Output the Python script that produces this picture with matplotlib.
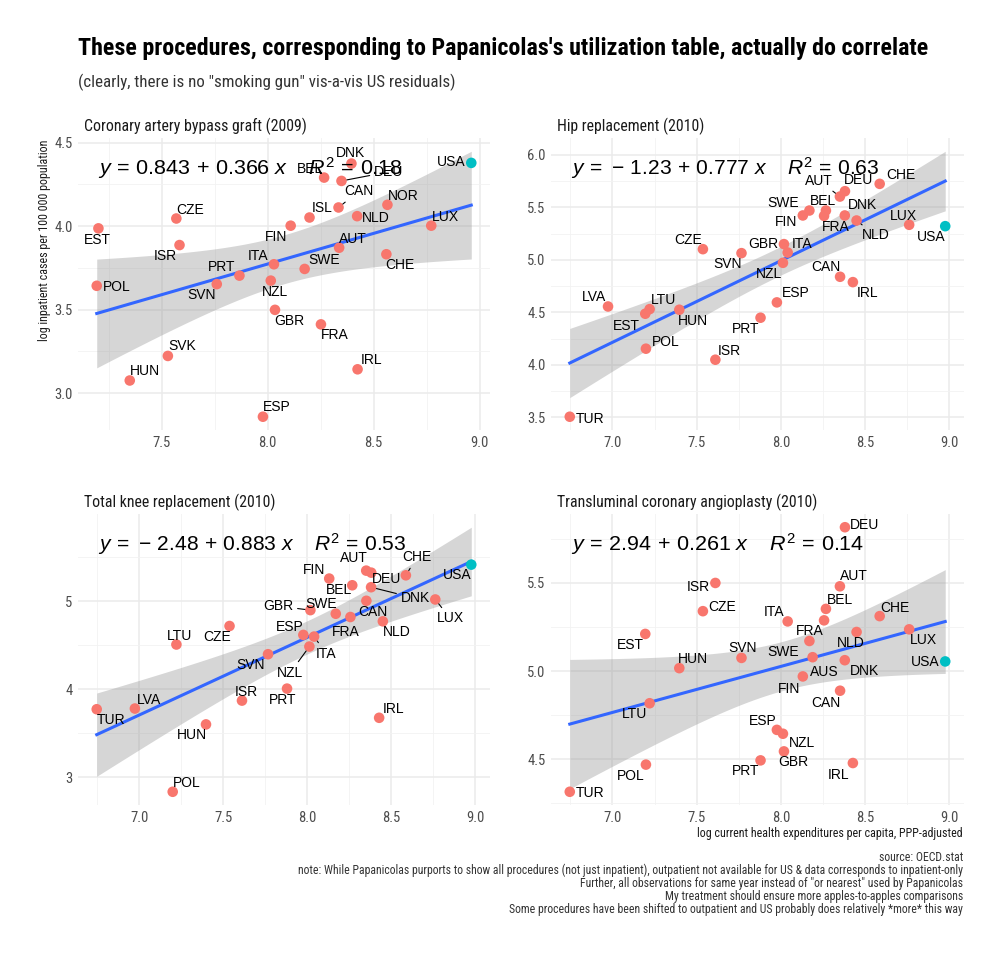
import numpy as np
import matplotlib
matplotlib.use("Agg")
import matplotlib.pyplot as plt
from matplotlib import font_manager
from matplotlib.ticker import MultipleLocator, FormatStrFormatter

# pick a condensed family if there is one, else plain Roboto
installed = {f.name for f in font_manager.fontManager.ttflist}
cond = next((n for n in ['Roboto Condensed', 'Liberation Sans Narrow',
                         'Open Sans Condensed', 'Roboto'] if n in installed), 'DejaVu Sans')

plt.rcParams['font.family'] = [cond, 'DejaVu Sans']
plt.rcParams['mathtext.fontset'] = 'custom'
plt.rcParams['mathtext.rm'] = 'Liberation Sans'
plt.rcParams['mathtext.it'] = 'Liberation Sans:italic'
plt.rcParams['mathtext.bf'] = 'Liberation Sans:bold'

# log health expenditure per capita (x) by country
spend_2009 = {'EST': 7.200, 'POL': 7.192, 'CZE': 7.568, 'ISR': 7.583, 'HUN': 7.348,
              'SVK': 7.528, 'SVN': 7.759, 'PRT': 7.866, 'ITA': 8.029, 'NZL': 8.014,
              'GBR': 8.034, 'ESP': 7.977, 'FIN': 8.108, 'ISL': 8.197, 'CAN': 8.334,
              'SWE': 8.174, 'AUT': 8.337, 'BEL': 8.266, 'DNK': 8.395, 'DEU': 8.348,
              'NLD': 8.422, 'NOR': 8.565, 'FRA': 8.251, 'IRL': 8.424, 'CHE': 8.560,
              'LUX': 8.772, 'USA': 8.961}
spend_2010 = {'TUR': 6.747, 'LVA': 6.974, 'EST': 7.195, 'LTU': 7.221, 'POL': 7.199,
              'HUN': 7.397, 'CZE': 7.537, 'ISR': 7.611, 'SVN': 7.766, 'PRT': 7.879,
              'ESP': 7.976, 'GBR': 8.018, 'ITA': 8.040, 'NZL': 8.012, 'CAN': 8.351,
              'IRL': 8.427, 'FIN': 8.130, 'SWE': 8.169, 'BEL': 8.267, 'FRA': 8.256,
              'AUT': 8.350, 'DEU': 8.380, 'DNK': 8.379, 'NLD': 8.449, 'CHE': 8.586,
              'LUX': 8.761, 'USA': 8.975, 'AUS': 8.188}

# log inpatient cases per 100 000 (y)
cabg_countries = ['EST', 'POL', 'CZE', 'ISR', 'HUN', 'SVK', 'SVN', 'PRT', 'ITA', 'NZL',
                  'GBR', 'ESP', 'FIN', 'ISL', 'CAN', 'SWE', 'AUT', 'BEL', 'DNK', 'DEU',
                  'NLD', 'NOR', 'FRA', 'IRL', 'CHE', 'LUX', 'USA']
cabg_values = [3.987, 3.643, 4.046, 3.887, 3.076, 3.223, 3.653, 3.704, 3.772, 3.674,
               3.499, 2.859, 4.003, 4.052, 4.112, 3.744, 3.871, 4.291, 4.375, 4.271,
               4.060, 4.128, 3.412, 3.143, 3.832, 4.003, 4.379]

hip_countries = ['TUR', 'LVA', 'EST', 'LTU', 'POL', 'HUN', 'CZE', 'ISR', 'SVN', 'PRT',
                 'ESP', 'GBR', 'ITA', 'NZL', 'CAN', 'IRL', 'FIN', 'SWE', 'BEL', 'FRA',
                 'AUT', 'DEU', 'DNK', 'NLD', 'CHE', 'LUX', 'USA']
hip_values = [3.506, 4.556, 4.487, 4.531, 4.154, 4.525, 5.102, 4.049, 5.064, 4.449,
              4.595, 5.150, 5.070, 4.972, 4.839, 4.788, 5.423, 5.470, 5.470, 5.419,
              5.603, 5.654, 5.423, 5.375, 5.724, 5.334, 5.321]

knee_countries = ['TUR', 'LVA', 'POL', 'LTU', 'HUN', 'CZE', 'ISR', 'SVN', 'PRT', 'ESP',
                  'ITA', 'NZL', 'GBR', 'SWE', 'FRA', 'CAN', 'FIN', 'BEL', 'AUT', 'DEU',
                  'DNK', 'CHE', 'NLD', 'IRL', 'LUX', 'USA']
knee_values = [3.774, 3.782, 2.838, 4.508, 3.602, 4.718, 3.872, 4.398, 4.008, 4.617,
               4.598, 4.485, 4.898, 4.857, 4.820, 5.004, 5.256, 5.180, 5.346, 5.323,
               5.158, 5.293, 4.771, 3.677, 5.019, 5.414]

ptca_countries = ['TUR', 'POL', 'EST', 'LTU', 'HUN', 'CZE', 'ISR', 'SVN', 'ESP', 'NZL',
                  'GBR', 'PRT', 'ITA', 'FRA', 'BEL', 'AUT', 'DEU', 'CHE', 'NLD', 'DNK',
                  'CAN', 'LUX', 'USA', 'IRL', 'SWE', 'FIN', 'AUS']
ptca_values = [4.316, 4.470, 5.211, 4.818, 5.017, 5.340, 5.500, 5.075, 4.667, 4.645,
               4.545, 4.494, 5.282, 5.288, 5.353, 5.481, 5.816, 5.312, 5.222, 5.062,
               4.889, 5.237, 5.055, 4.479, 5.171, 4.970, 5.079]

panel_titles = ['Coronary artery bypass graft (2009)', 'Hip replacement (2010)',
                'Total knee replacement (2010)', 'Transluminal coronary angioplasty (2010)']
eq_labels = [r'$y\,=\,0.843\,+\,0.366\ x\quad\; R^2\,=\,0.18$',
             r'$y\,=\,-\,1.23\,+\,0.777\ x\quad\; R^2\,=\,0.63$',
             r'$y\,=\,-\,2.48\,+\,0.883\ x\quad\; R^2\,=\,0.53$',
             r'$y\,=\,2.94\,+\,0.261\ x\quad\; R^2\,=\,0.14$']

# label offsets in pixels (dx, dy) from each point, like ggrepel placed them
offs_cabg = {'DNK': (-1, 11), 'BEL': (-14, 9), 'DEU': (47, 9), 'CAN': (20, 16), 'ISL': (13, 10),
             'NOR': (16, 9), 'NLD': (19, -2), 'CZE': (14, 9), 'EST': (-1, -12), 'ISR': (-14, -11),
             'FIN': (-15, -11), 'AUT': (14, 9), 'LUX': (14, 9), 'USA': (-20, 1), 'ITA': (-16, 8),
             'SWE': (19, 9), 'CHE': (14, -11), 'PRT': (-18, 9), 'POL': (20, -1), 'SVN': (-15, -11),
             'NZL': (4, -11), 'GBR': (14, -11), 'FRA': (14, -11), 'SVK': (14, 10), 'HUN': (15, 9),
             'IRL': (14, 9), 'ESP': (14, 10)}
offs_hip = {'TUR': (20, -2), 'LVA': (-14, 9), 'EST': (-19, -12), 'LTU': (14, 9), 'POL': (20, 7),
            'HUN': (14, -11), 'CZE': (-15, 9), 'ISR': (14, 9), 'SVN': (-14, -11), 'PRT': (-15, -11),
            'ESP': (19, 9), 'GBR': (-21, 0), 'ITA': (14, 9), 'NZL': (-14, -11), 'CAN': (-14, 10),
            'IRL': (15, -11), 'FIN': (-17, -7), 'SWE': (-26, 8), 'BEL': (-3, 10), 'FRA': (12, -11),
            'AUT': (-21, 16), 'DEU': (14, 11), 'DNK': (18, 10), 'NLD': (19, -15), 'CHE': (21, 9),
            'LUX': (-6, 9), 'USA': (-14, -11)}
offs_knee = {'TUR': (14, -11), 'LVA': (14, 9), 'POL': (14, 9), 'LTU': (3, 9), 'HUN': (-14, -11),
             'CZE': (-12, -11), 'ISR': (4, 9), 'SVN': (-17, -11), 'PRT': (-4, -11), 'ESP': (-14, 8),
             'ITA': (12, -17), 'NZL': (-19, -26), 'GBR': (-32, 4), 'SWE': (-15, 10), 'FRA': (-5, -15),
             'CAN': (7, -11), 'FIN': (-15, 9), 'BEL': (-13, -5), 'AUT': (-12, 13), 'DEU': (15, -6),
             'DNK': (44, -11), 'CHE': (11, 18), 'NLD': (14, -11), 'IRL': (14, 9), 'LUX': (15, -19),
             'USA': (-14, -10)}
offs_ptca = {'TUR': (20, -1), 'POL': (-15, -11), 'EST': (-15, -11), 'LTU': (-15, -11), 'HUN': (14, 9),
             'CZE': (19, 4), 'ISR': (-17, -4), 'SVN': (1, 10), 'ESP': (-14, 9), 'NZL': (19, -9),
             'GBR': (9, -11), 'PRT': (-15, -11), 'ITA': (-14, 9), 'FRA': (-14, -11), 'BEL': (14, 9),
             'AUT': (14, 10), 'DEU': (20, 2), 'CHE': (15, 8), 'NLD': (-6, -11), 'DNK': (20, -11),
             'CAN': (-14, -12), 'LUX': (14, -11), 'USA': (-20, -1), 'IRL': (-14, -12), 'SWE': (-26, -11),
             'FIN': (-14, -13), 'AUS': (12, -15)}
segments = [{'DEU', 'CAN'}, {'AUT', 'NLD'}, {'GBR', 'ITA', 'NZL', 'DNK', 'CHE', 'LUX'}, set()]

panels = [(cabg_countries, cabg_values, spend_2009, offs_cabg),
          (hip_countries, hip_values, spend_2010, offs_hip),
          (knee_countries, knee_values, spend_2010, offs_knee),
          (ptca_countries, ptca_values, spend_2010, offs_ptca)]

W, H = 1004, 956
fig = plt.figure(figsize=(W / 100, H / 100), dpi=100)
boxes = [(78, 138, 490, 430), (551, 138, 964, 430), (78, 514, 490, 805), (551, 514, 964, 805)]
eq_width = [305, 308, 308, 293]
y_major = [0.5, 0.5, 1.0, 0.5]
y_fmt = ['%.1f', '%.1f', '%d', '%.1f']


def t_quant(df):
    z = 1.959964
    return z + (z**3 + z) / (4 * df) + (5 * z**5 + 16 * z**3 + 3 * z) / (96 * df**2)


ptitles = []
eqs = []
for i, (ctry, vals, spend, offs) in enumerate(panels):
    l, t, r, b = boxes[i]
    ax = fig.add_axes([l / W, 1 - b / H, (r - l) / W, (b - t) / H])
    x = np.array([spend[c] for c in ctry])
    y = np.array(vals)

    # lm fit with 95% band
    slope, icpt = np.polyfit(x, y, 1)
    n = len(x)
    resid = y - (icpt + slope * x)
    s = np.sqrt(np.sum(resid**2) / (n - 2))
    xs = np.linspace(x.min(), x.max(), 80)
    se = s * np.sqrt(1 / n + (xs - x.mean())**2 / np.sum((x - x.mean())**2))
    fit = icpt + slope * xs
    tq = t_quant(n - 2)
    lo, hi = fit - tq * se, fit + tq * se

    ax.fill_between(xs, lo, hi, color='#999999', alpha=0.4, lw=0, zorder=1)
    ax.plot(xs, fit, color='#3366FF', lw=2.2, zorder=2)
    cols = ['#00BFC4' if c == 'USA' else '#F8766D' for c in ctry]
    ax.scatter(x, y, s=58, c=cols, lw=0, zorder=3)

    for c, xv, yv in zip(ctry, x, y):
        dx, dy = offs[c]
        ap = None
        if c in segments[i]:
            ap = dict(arrowstyle='-', color='black', lw=0.8, shrinkA=1, shrinkB=4)
        ax.annotate(c, (xv, yv), xytext=(dx, dy), textcoords='offset pixels',
                    ha='center', va='center', fontsize=10, family='Liberation Sans',
                    color='black', arrowprops=ap, zorder=4)

    eqs.append(ax.text(0.048, 0.897, eq_labels[i], transform=ax.transAxes, ha='left',
                       va='center', fontsize=16, zorder=5))

    # ggplot style limits: data + band, expanded 5%
    xr = x.max() - x.min()
    ax.set_xlim(x.min() - 0.05 * xr, x.max() + 0.05 * xr)
    ymin = min(y.min(), lo.min())
    ymax = max(y.max(), hi.max())
    yr = ymax - ymin
    ax.set_ylim(ymin - 0.05 * yr, ymax + 0.05 * yr)

    ax.xaxis.set_major_locator(MultipleLocator(0.5))
    ax.xaxis.set_minor_locator(MultipleLocator(0.25))
    ax.xaxis.set_major_formatter(FormatStrFormatter('%.1f'))
    ax.yaxis.set_major_locator(MultipleLocator(y_major[i]))
    ax.yaxis.set_minor_locator(MultipleLocator(y_major[i] / 2))
    ax.yaxis.set_major_formatter(FormatStrFormatter(y_fmt[i]))
    ax.grid(True, which='major', color='#EBEBEB', lw=1.1)
    ax.grid(True, which='minor', color='#F2F2F2', lw=0.6)
    ax.set_axisbelow(True)
    for sp in ax.spines.values():
        sp.set_visible(False)
    ax.tick_params(which='both', length=0, labelsize=10.5, labelcolor='#4D4D4D', pad=4)

    pt = ax.text(6 / (r - l), 1 + 12 / (b - t), panel_titles[i], transform=ax.transAxes,
                 ha='left', va='center', fontsize=11, color='#1A1A1A')
    ptitles.append(pt)
    if i == 0:
        ylab = fig.text(45 / W, 1 - 240 / H, 'log inpatient cases per 100 000 population',
                        rotation=90, ha='center', va='center', fontsize=8.5, color='#1A1A1A')
    if i == 3:
        xlab = fig.text(963 / W, 1 - 833 / H, 'log current health expenditures per capita, PPP-adjusted',
                        ha='right', va='center', fontsize=8.5, color='#1A1A1A')

title = fig.text(78 / W, 1 - 48 / H,
                 "These procedures, corresponding to Papanicolas's utilization table, actually do correlate",
                 ha='left', va='center', fontsize=16, fontweight='bold', color='black')
subtitle = fig.text(78 / W, 1 - 82 / H,
                    '(clearly, there is no "smoking gun" vis-a-vis US residuals)',
                    ha='left', va='center', fontsize=12, color='#333333')

caption_lines = ['source: OECD.stat',
                 'note: While Papanicolas purports to show all procedures (not just inpatient), '
                 'outpatient not available for US & data corresponds to inpatient-only',
                 'Further, all observations for same year instead of "or nearest" used by Papanicolas',
                 'My treatment should ensure more apples-to-apples comparisons',
                 'Some procedures have been shifted to outpatient and US probably does relatively *more* this way']
cap = []
for k, line in enumerate(caption_lines):
    cap.append(fig.text(963 / W, 1 - (857.5 + 13 * k) / H, line, ha='right', va='center',
                        fontsize=8.5, color='#333333'))

# scale text so widths match the reference
rend = fig.canvas.get_renderer()


def fit(txts, ref, target, use_height=False):
    bb = ref.get_window_extent(rend)
    cur = bb.height if use_height else bb.width
    f = ref.get_fontsize() * target / cur
    for tt in txts:
        tt.set_fontsize(f)


fit([title], title, 849)
fit([subtitle], subtitle, 377)
fit(ptitles, ptitles[0], 223)
fit([ylab], ylab, 200, use_height=True)
fit([xlab], xlab, 265)
fit(cap, cap[1], 665)
for e, w in zip(eqs, eq_width):
    fit([e], e, w)

fig.savefig('out.png', dpi=100)
